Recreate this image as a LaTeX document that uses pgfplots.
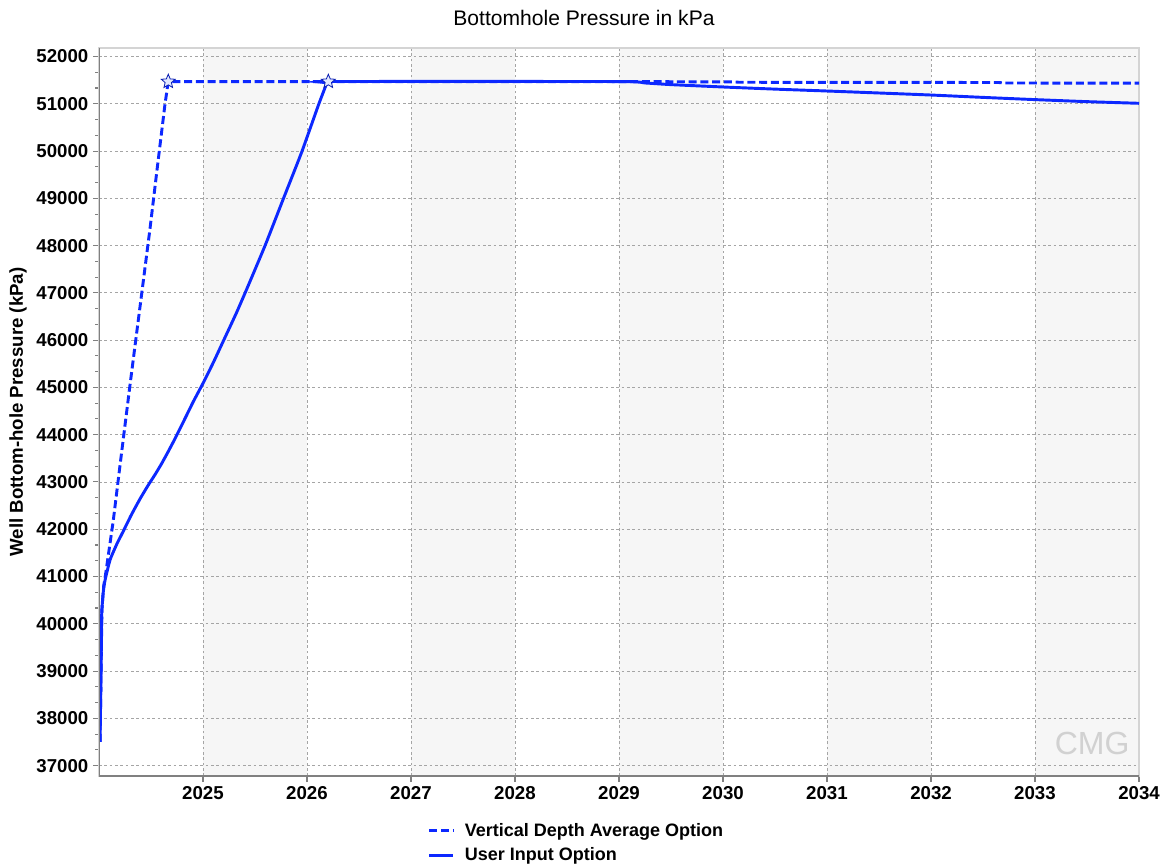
\documentclass[border=0pt]{standalone}
\usepackage{fontspec}
\setmainfont{Liberation Sans}
\setsansfont{Liberation Sans}
\usepackage{pgfplots}
\usepackage{pgfplotstable}
\pgfplotsset{compat=1.18}
\definecolor{lineblue}{RGB}{12,40,255}
\definecolor{bandgray}{RGB}{246,246,246}
\definecolor{gridgray}{RGB}{165,165,165}
\definecolor{axisdark}{RGB}{128,128,128}
\definecolor{axislight}{RGB}{212,212,212}
\definecolor{starfill}{RGB}{225,232,255}

\pgfdeclareplotmark{ostar}{%
  \pgfpathmoveto{\pgfpointpolar{90}{\pgfplotmarksize}}%
  \pgfpathlineto{\pgfpointpolar{126}{0.45\pgfplotmarksize}}%
  \pgfpathlineto{\pgfpointpolar{162}{\pgfplotmarksize}}%
  \pgfpathlineto{\pgfpointpolar{198}{0.45\pgfplotmarksize}}%
  \pgfpathlineto{\pgfpointpolar{234}{\pgfplotmarksize}}%
  \pgfpathlineto{\pgfpointpolar{270}{0.45\pgfplotmarksize}}%
  \pgfpathlineto{\pgfpointpolar{306}{\pgfplotmarksize}}%
  \pgfpathlineto{\pgfpointpolar{342}{0.45\pgfplotmarksize}}%
  \pgfpathlineto{\pgfpointpolar{18}{\pgfplotmarksize}}%
  \pgfpathlineto{\pgfpointpolar{54}{0.45\pgfplotmarksize}}%
  \pgfpathclose
  \pgfusepathqfillstroke
}

\pgfplotstableread{
x y
2024.010 37500
2024.020 39000
2024.026 40200
2024.040 40650
2024.058 40920
2024.106 41350
2024.170 41680
2024.234 41960
2024.310 42300
2024.394 42640
2024.470 42920
2024.540 43160
2024.600 43380
2024.660 43620
2024.720 43870
2024.779 44130
2024.840 44400
2024.907 44700
2025.003 45100
2025.100 45530
2025.208 46040
2025.320 46570
2025.420 47077
2025.596 47996
2025.772 48987
2025.949 49978
2026.109 50967
2026.189 51427
2026.205 51470
2029.000 51470
2029.250 51440
2029.500 51405
2030.000 51355
2030.500 51310
2031.000 51270
2031.500 51228
2032.000 51185
2032.500 51135
2033.000 51088
2033.500 51045
2034.000 51010
}\userinput

\pgfplotstableread{
x y
2024.010 37500
2024.020 39000
2024.028 40300
2024.045 40800
2024.067 41100
2024.138 42197
2024.202 43350
2024.250 44200
2024.298 45050
2024.490 48350
2024.555 49550
2024.635 51000
2024.666 51470
2029.000 51470
2030.120 51462
2030.150 51455
2032.650 51450
2032.700 51440
2034.000 51435
}\vdavg

\pgfplotstableread{
x y
2024.666 51470
2026.205 51470
}\stars

\pgfplotstableread{
x y
2025 52180
2026 52180
}\bandA
\pgfplotstableread{
x y
2027 52180
2028 52180
}\bandB
\pgfplotstableread{
x y
2029 52180
2030 52180
}\bandC
\pgfplotstableread{
x y
2031 52180
2032 52180
}\bandD
\pgfplotstableread{
x y
2033 52180
2034 52180
}\bandE

\begin{document}
\begin{tikzpicture}
\begin{axis}[
  set layers,
  at={(0,0)}, anchor=south west,
  scale only axis,
  width=780pt, height=546pt,
  xmin=2024, xmax=2034,
  ymin=36780, ymax=52180,
  xtick={2025,2026,...,2034},
  ytick={37000,38000,...,52000},
  scaled y ticks=false,
  scaled x ticks=false,
  yticklabel style={/pgf/number format/fixed, /pgf/number format/precision=0},
  minor y tick num=2,
  tick pos=left,
  tick align=outside,
  major tick length=4.5pt,
  minor tick length=3pt,
  every tick/.style={axisdark, line width=0.8pt},
  /pgf/number format/1000 sep={},
  /pgf/number format/assume math mode=true,
  ticklabel style={font=\fontsize{14}{16}\selectfont\bfseries},
  grid=major,
  major grid style={gridgray, dash pattern=on 2pt off 2pt, line width=0.6pt},
  axis line style={axislight, line width=1pt},
  legend style={at={(0.316,-0.062)}, anchor=north west, draw=none, fill=none,
    font=\fontsize{13.5}{16}\selectfont\bfseries, inner sep=0pt, row sep=4pt,
    column sep=6pt, nodes={inner sep=1.5pt}},
  legend cell align=left,
  legend image code/.code={\draw[#1] (0pt,0pt) -- (18pt,0pt);},
]
% alternating year bands
\addplot[fill=bandgray, draw=none, forget plot, on layer=axis background] table[x=x,y=y] {\bandA} \closedcycle;
\addplot[fill=bandgray, draw=none, forget plot, on layer=axis background] table[x=x,y=y] {\bandB} \closedcycle;
\addplot[fill=bandgray, draw=none, forget plot, on layer=axis background] table[x=x,y=y] {\bandC} \closedcycle;
\addplot[fill=bandgray, draw=none, forget plot, on layer=axis background] table[x=x,y=y] {\bandD} \closedcycle;
\addplot[fill=bandgray, draw=none, forget plot, on layer=axis background] table[x=x,y=y] {\bandE} \closedcycle;

\addplot[lineblue, line width=2.2pt, dash pattern=on 6pt off 2.8pt, no markers] table[x=x,y=y] {\vdavg};
\addlegendentry{Vertical Depth Average Option}
\addplot[lineblue, line width=2.2pt, no markers, smooth, tension=0.3] table[x=x,y=y] {\userinput};
\addlegendentry{User Input Option}
\addplot[only marks, mark=ostar, mark size=5.5pt, draw=lineblue!70!black, fill=starfill, line width=0.6pt, forget plot] table[x=x,y=y] {\stars};

\draw[axisdark, line width=1.6pt] (rel axis cs:0,1) -- (rel axis cs:0,0) -- (rel axis cs:1,0);
\node[text=black!18, font=\fontsize{24}{24}\selectfont] at (rel axis cs:0.955,0.045) {CMG};
\end{axis}
\node[font=\fontsize{15.8}{18}\selectfont] at (363.75pt,568.5pt) {Bottomhole Pressure in kPa};
\node[rotate=90, font=\fontsize{14}{16}\selectfont\bfseries] at (-60.75pt,273pt) {Well Bottom-hole Pressure (kPa)};
\pgfresetboundingbox
\useasboundingbox (-74.25pt,-68.25pt) rectangle (800.25pt,582pt);
\end{tikzpicture}
\end{document}
